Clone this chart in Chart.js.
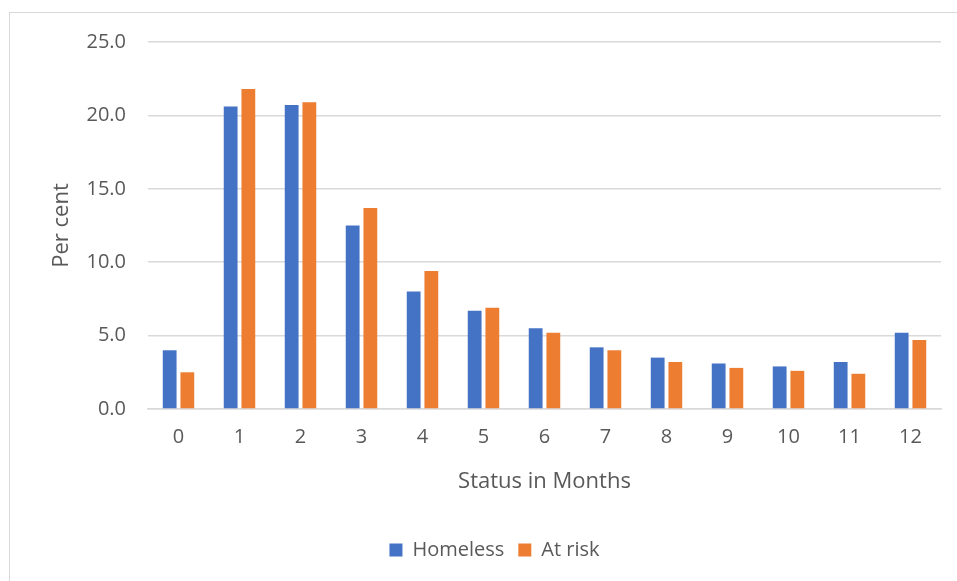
<!DOCTYPE html>
<html>
<head>
<meta charset="utf-8">
<script src="https://cdn.jsdelivr.net/npm/chart.js@4/dist/chart.umd.min.js"></script>
<style>
  html, body { margin: 0; padding: 0; background: #fff; overflow: hidden; }
  #wrap { position: relative; width: 957px; height: 581px; }
  #frame { position: absolute; left: 9px; top: 12px; width: 980px; height: 600px;
           border: 1px solid #d9d9d9; box-sizing: border-box; }
  canvas { position: absolute; left: 0; top: 0; }
</style>
</head>
<body>
<div id="wrap">
  <div id="frame"></div>
  <canvas id="c" width="957" height="581"></canvas>
</div>
<script>
// Months since status was recorded
const months = ['0', '1', '2', '3', '4', '5', '6', '7', '8', '9', '10', '11', '12'];
// Share of people (per cent) in each month
const homeless = [4.0, 20.6, 20.7, 12.5, 8.0, 6.7, 5.5, 4.2, 3.5, 3.1, 2.9, 3.2, 5.2];
const atRisk   = [2.5, 21.8, 20.9, 13.7, 9.4, 6.9, 5.2, 4.0, 3.2, 2.8, 2.6, 2.4, 4.7];
const seriesNames = ['Homeless', 'At risk'];

const FONT = '"Open Sans", "Liberation Sans", sans-serif';
const TEXT = '#595959';
const GRID = '#d9d9d9';

new Chart(document.getElementById('c'), {
  type: 'bar',
  data: {
    labels: months,
    datasets: [
      { label: seriesNames[0], data: homeless, backgroundColor: '#4472C4',
        categoryPercentage: 0.58, barPercentage: 0.78 },
      { label: seriesNames[1], data: atRisk, backgroundColor: '#ED7D31',
        categoryPercentage: 0.58, barPercentage: 0.78 }
    ]
  },
  options: {
    responsive: false,
    animation: false,
    layout: { padding: { left: 48, right: 16, top: 42, bottom: 11 } },
    plugins: {
      tooltip: { enabled: false },
      legend: {
        position: 'bottom',
        labels: {
          color: TEXT,
          font: { family: FONT, size: 20 },
          boxWidth: 13, boxHeight: 13,
          padding: 14
        }
      }
    },
    scales: {
      x: {
        grid: { display: false, drawTicks: false },
        border: { color: GRID, width: 1.5 },
        ticks: { color: TEXT, font: { family: FONT, size: 20 }, padding: 16 },
        title: { display: true, text: 'Status in Months', color: TEXT,
                 font: { family: FONT, size: 22 }, padding: { top: 0, bottom: 31 } },
        afterFit: s => { s.height = 117; }
      },
      y: {
        min: 0, max: 25,
        grid: { color: GRID, lineWidth: 1.5, drawTicks: false },
        border: { display: false },
        ticks: { stepSize: 5, color: TEXT, font: { family: FONT, size: 20 }, padding: 22,
                 callback: v => Number(v).toFixed(1) },
        title: { display: true, text: 'Per cent', color: TEXT,
                 font: { family: FONT, size: 22 }, padding: { top: 1, bottom: 0 } },
        afterFit: s => { s.width = 100; }
      }
    }
  }
});
</script>
</body>
</html>
